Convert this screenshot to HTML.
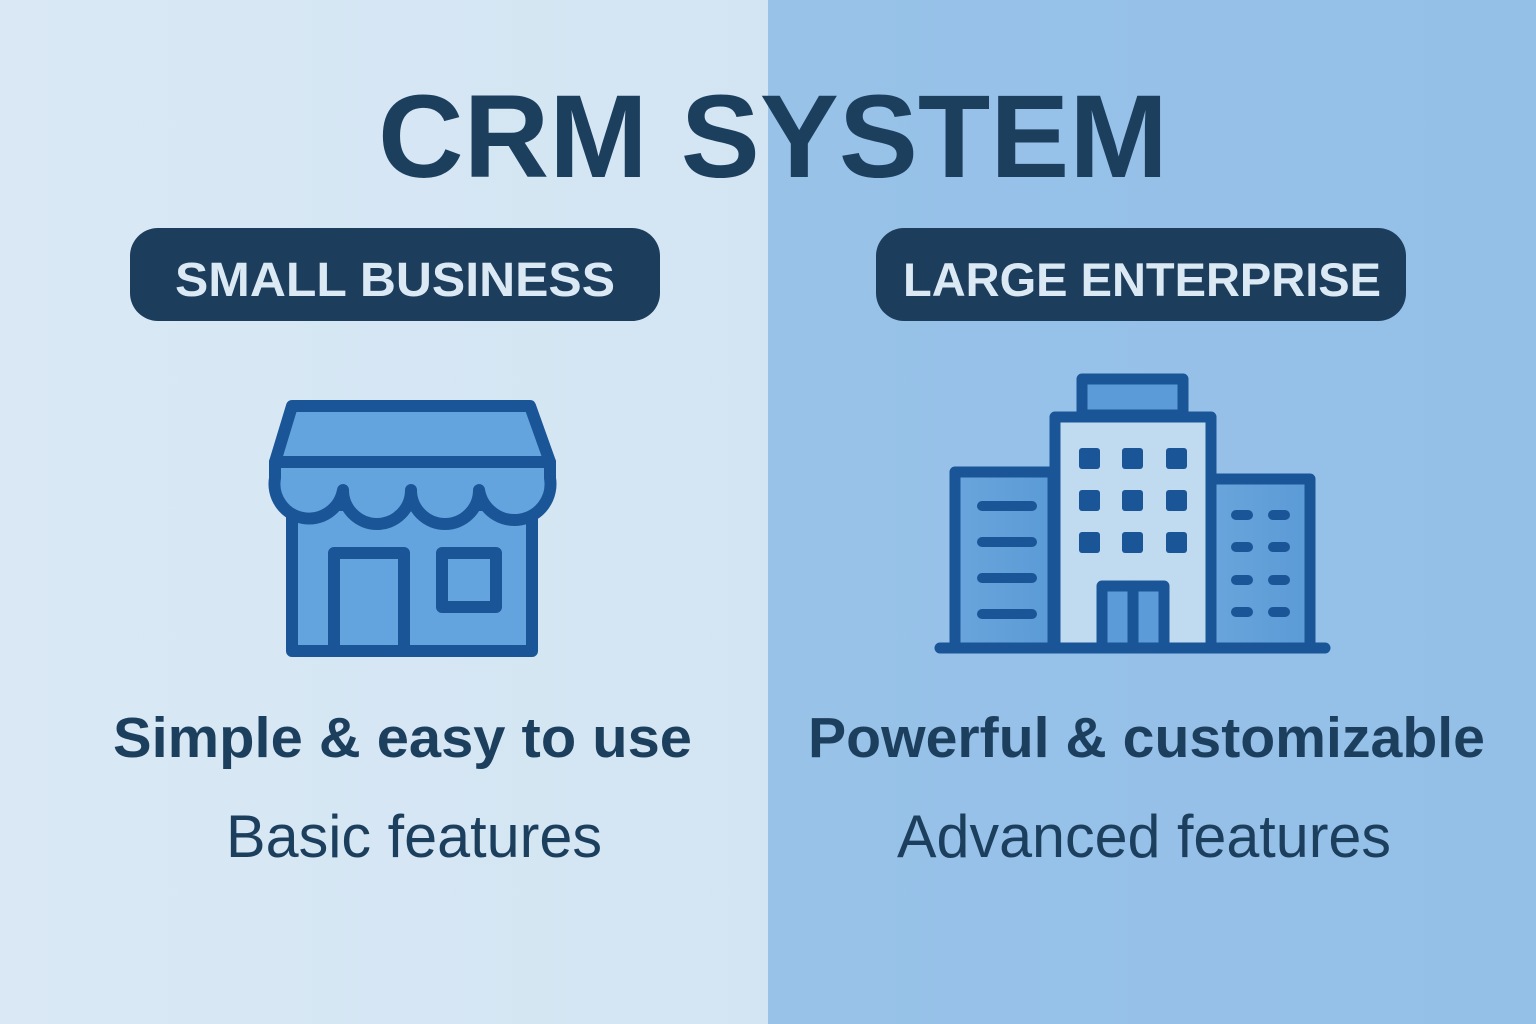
<!DOCTYPE html>
<html><head><meta charset="utf-8"><style>
html,body{margin:0;padding:0}
body{width:1536px;height:1024px;overflow:hidden;background:linear-gradient(90deg,#d9e8f4 0,#d3e5f3 768px,#98c2e8 768px,#94bfe7 1536px)}
</style></head><body>
<svg width="1536" height="1024" viewBox="0 0 1536 1024" xmlns="http://www.w3.org/2000/svg" style="position:absolute;left:0;top:0">
<defs>
<linearGradient id="lg" x1="0" x2="1"><stop offset="0" stop-color="#6aa5dc"/><stop offset="1" stop-color="#5a9ad6"/></linearGradient>
</defs>
<text x="773" y="177" text-anchor="middle" font-family="Liberation Sans, sans-serif" font-weight="bold" font-size="118" fill="#1d3f5e" textLength="790" lengthAdjust="spacingAndGlyphs">CRM SYSTEM</text>
<rect x="130" y="228" width="530" height="93" rx="28" fill="#1d3d5c"/>
<rect x="876" y="228" width="530" height="93" rx="28" fill="#1d3d5c"/>
<text x="395" y="296" text-anchor="middle" font-family="Liberation Sans, sans-serif" font-weight="bold" font-size="48" fill="#dbe9f5" textLength="440" lengthAdjust="spacingAndGlyphs">SMALL BUSINESS</text>
<text x="1142" y="296" text-anchor="middle" font-family="Liberation Sans, sans-serif" font-weight="bold" font-size="47" fill="#dbe9f5" textLength="478" lengthAdjust="spacingAndGlyphs">LARGE ENTERPRISE</text>

<g stroke="#1a5598" stroke-width="12" stroke-linejoin="round" stroke-linecap="round" fill="#64a4de">
<rect x="292" y="505" width="240" height="146"/>
<rect x="334" y="553" width="70" height="98"/>
<rect x="442" y="553" width="54" height="54"/>
<path d="M292 406 L530 406 L550 462 L275 462 Z"/>
<path d="M275 462 L550 462 L550 478 A34 34 0 0 1 479 490 A34 34 0 0 1 411 490 A34 34 0 0 1 343 490 A34 34 0 0 1 275 478 Z"/>
</g>

<g stroke="#1a5598" stroke-width="11" stroke-linejoin="round" stroke-linecap="round">
<rect x="1082" y="379" width="101" height="36" fill="#5b9bd8"/>
<rect x="955" y="472" width="98" height="176" fill="url(#lg)"/>
<rect x="1211" y="479" width="99" height="169" fill="url(#lg)"/>
<rect x="1055" y="417" width="156" height="231" fill="#c0daf0"/>
<rect x="1102" y="586" width="62" height="62" fill="#5b9bd8"/>
<line x1="1133" y1="588" x2="1133" y2="648"/>
<line x1="940" y1="648" x2="1325" y2="648"/>
<g stroke-width="10">
<line x1="982" y1="506" x2="1032" y2="506"/><line x1="982" y1="542" x2="1032" y2="542"/>
<line x1="982" y1="578" x2="1032" y2="578"/><line x1="982" y1="614" x2="1032" y2="614"/>
<line x1="1236" y1="515" x2="1248" y2="515"/><line x1="1273" y1="515" x2="1285" y2="515"/>
<line x1="1236" y1="547" x2="1248" y2="547"/><line x1="1273" y1="547" x2="1285" y2="547"/>
<line x1="1236" y1="580" x2="1248" y2="580"/><line x1="1273" y1="580" x2="1285" y2="580"/>
<line x1="1236" y1="612" x2="1248" y2="612"/><line x1="1273" y1="612" x2="1285" y2="612"/>
</g>
</g>
<g fill="#1a5598">
<rect x="1079" y="448" width="21" height="21" rx="3"/><rect x="1122" y="448" width="21" height="21" rx="3"/><rect x="1166" y="448" width="21" height="21" rx="3"/>
<rect x="1079" y="490" width="21" height="21" rx="3"/><rect x="1122" y="490" width="21" height="21" rx="3"/><rect x="1166" y="490" width="21" height="21" rx="3"/>
<rect x="1079" y="532" width="21" height="21" rx="3"/><rect x="1122" y="532" width="21" height="21" rx="3"/><rect x="1166" y="532" width="21" height="21" rx="3"/>
</g>

<text x="113" y="757" font-family="Liberation Sans, sans-serif" font-weight="bold" font-size="57" fill="#1d3f5e" textLength="579" lengthAdjust="spacingAndGlyphs">Simple &amp; easy to use</text>
<text x="808" y="757" font-family="Liberation Sans, sans-serif" font-weight="bold" font-size="57" fill="#1d3f5e" textLength="677" lengthAdjust="spacingAndGlyphs">Powerful &amp; customizable</text>
<text x="226" y="857" font-family="Liberation Sans, sans-serif" font-size="60" fill="#1d3f5e" textLength="376" lengthAdjust="spacingAndGlyphs">Basic features</text>
<text x="897" y="857" font-family="Liberation Sans, sans-serif" font-size="60" fill="#1d3f5e" textLength="494" lengthAdjust="spacingAndGlyphs">Advanced features</text>
</svg>
</body></html>
